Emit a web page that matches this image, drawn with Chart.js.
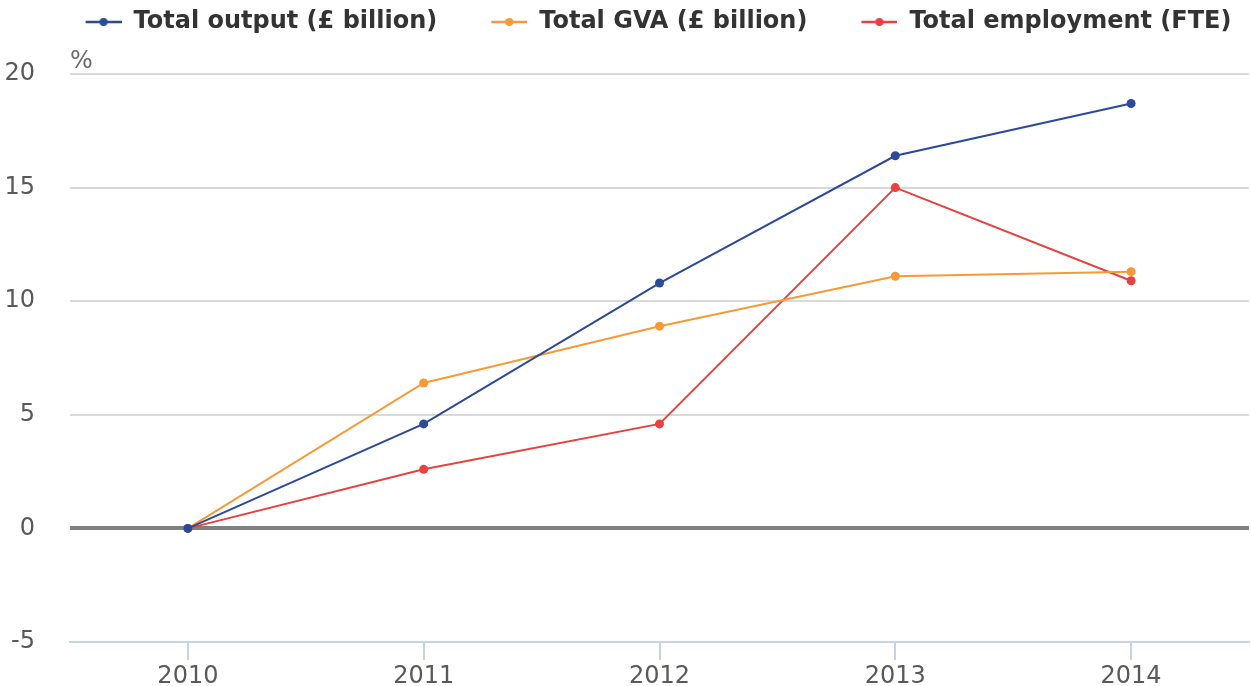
<!DOCTYPE html>
<html>
<head>
<meta charset="utf-8">
<script src="https://cdn.jsdelivr.net/npm/chart.js@4/dist/chart.umd.min.js"></script>
<style>
html,body{margin:0;padding:0;background:#fff;}
#wrap{width:1251px;height:686px;position:relative;}
</style>
</head>
<body>
<div id="wrap"><canvas id="c" width="1251" height="686"></canvas></div>
<script>
const years = ['2010', '2011', '2012', '2013', '2014'];
const totalOutput = [0, 4.6, 10.8, 16.4, 18.7];
const totalGVA = [0, 6.4, 8.9, 11.1, 11.3];
const totalEmployment = [0, 2.6, 4.6, 15.0, 10.9];
const seriesLabels = ['Total output (£ billion)', 'Total GVA (£ billion)', 'Total employment (FTE)'];
const yTicks = [-5, 0, 5, 10, 15, 20];
const unitLabel = '%';

const colors = ['#2c4a9a', '#f79a35', '#e8413f'];

function makeMarker(color) {
  const c = document.createElement('canvas');
  c.width = 80; c.height = 12;
  const g = c.getContext('2d');
  g.strokeStyle = color; g.lineWidth = 2.5;
  g.beginPath(); g.moveTo(44, 6); g.lineTo(80, 6); g.stroke();
  g.fillStyle = color;
  g.beginPath(); g.arc(62, 6, 4, 0, Math.PI * 2); g.fill();
  return c;
}
const markers = colors.map(makeMarker);

const unitPlugin = {
  id: 'unitLabel',
  afterLayout(chart) {
    const lg = chart.legend;
    if (lg) { lg.left += 12; lg.right += 12; lg.top -= 30; lg.bottom -= 30; }
  },
  afterDraw(chart) {
    const ctx = chart.ctx;
    ctx.save();
    ctx.font = '24px "DejaVu Sans"';
    ctx.fillStyle = '#6b6b6b';
    ctx.textAlign = 'left';
    ctx.textBaseline = 'middle';
    ctx.fillText(unitLabel, chart.chartArea.left, 62);
    ctx.restore();
  }
};

const series = [totalOutput, totalGVA, totalEmployment];

new Chart(document.getElementById('c'), {
  type: 'line',
  data: {
    labels: years,
    datasets: series.map((d, i) => ({
      label: seriesLabels[i],
      data: d,
      borderColor: colors[i],
      backgroundColor: colors[i],
      pointBackgroundColor: colors[i],
      pointBorderColor: colors[i],
      borderWidth: 2,
      pointRadius: 4.5,
      pointBorderWidth: 0,
      tension: 0,
      fill: false
    }))
  },
  plugins: [unitPlugin],
  options: {
    responsive: false,
    animation: false,
    layout: { autoPadding: false, padding: { top: 30, right: 2, left: 0, bottom: 0 } },
    plugins: {
      tooltip: { enabled: false },
      legend: {
        position: 'top',
        fullSize: true,
        labels: {
          usePointStyle: true,
          pointStyleWidth: 80,
          padding: 10,
          color: '#333333',
          font: { family: '"DejaVu Sans"', weight: 'bold', size: 24 },
          generateLabels(chart) {
            return chart.data.datasets.map((ds, i) => ({
              text: ds.label,
              pointStyle: markers[i],
              fillStyle: colors[i],
              strokeStyle: 'transparent',
              lineWidth: 0,
              hidden: false,
              datasetIndex: i,
              fontColor: '#333333'
            }));
          }
        }
      }
    },
    scales: {
      x: {
        type: 'category',
        offset: true,
        border: { display: true, color: '#c5d3e4', width: 2 },
        grid: { display: true, drawOnChartArea: false, drawTicks: true, tickLength: 18, color: '#c5d3e4', lineWidth: 2 },
        ticks: { color: '#595959', padding: 2, font: { family: '"DejaVu Sans"', size: 24 }, maxRotation: 0 },
        afterFit(s) { s.height = 44; s.paddingLeft = 0; s.paddingRight = 0; }
      },
      y: {
        min: -5, max: 20,
        afterBuildTicks(s) { s.ticks = yTicks.map(v => ({ value: v })); },
        border: { display: false },
        grid: {
          drawTicks: false,
          color: ctx => ctx.tick && ctx.tick.value === 0 ? '#808080' : (ctx.tick && ctx.tick.value === -5 ? 'rgba(0,0,0,0)' : '#d9d9d9'),
          lineWidth: ctx => ctx.tick && ctx.tick.value === 0 ? 4 : 2
        },
        ticks: { color: '#595959', padding: 35, font: { family: '"DejaVu Sans"', size: 24 } },
        afterFit(s) { s.width = 70; s.paddingTop = 0; s.paddingBottom = 0; }
      }
    }
  }
});
</script>
</body>
</html>
